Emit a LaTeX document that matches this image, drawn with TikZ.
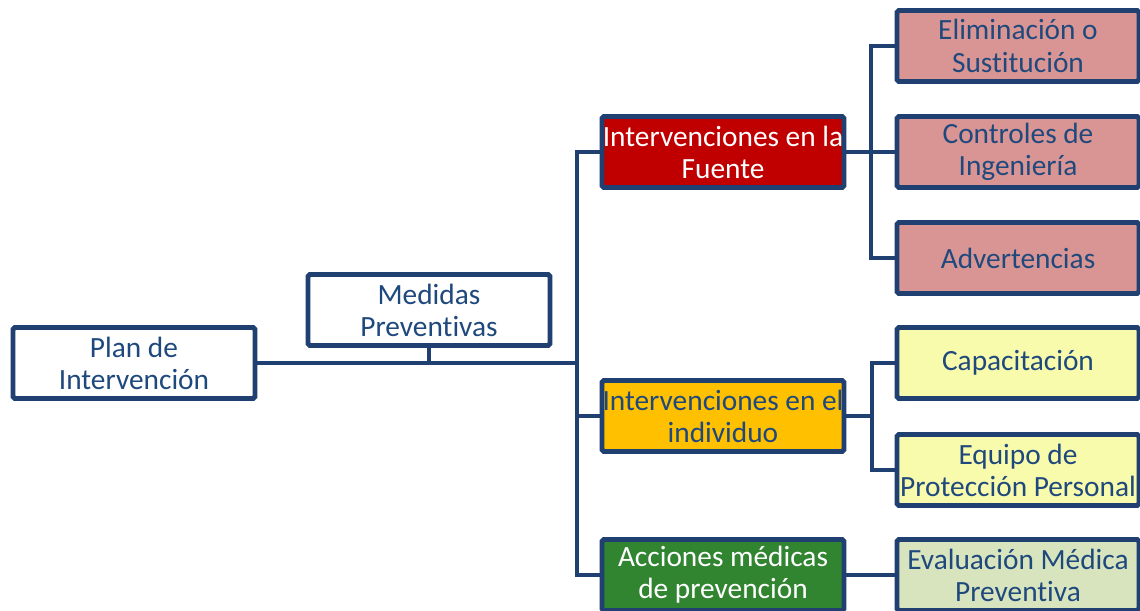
\documentclass[tikz,border=0pt]{standalone}
\usepackage{fontspec}
\setmainfont{Carlito}[Ligatures=NoCommon]
\definecolor{lineblue}{RGB}{31,64,112}
\definecolor{textblue}{RGB}{31,73,125}
\definecolor{fuentered}{RGB}{192,0,0}
\definecolor{indivorange}{RGB}{255,192,0}
\definecolor{medgreen}{RGB}{49,133,49}
\definecolor{lightred}{RGB}{217,149,148}
\definecolor{lightyellow}{RGB}{248,250,172}
\definecolor{lightgreen}{RGB}{215,228,189}
\tikzset{
    box/.style={draw=lineblue, line width=2.8pt, rounded corners=1pt, minimum width=4.84cm, minimum height=1.42cm,
        inner sep=0pt, align=center, text=textblue, font=\fontsize{16.7}{18.3}\selectfont},
    link/.style={lineblue, line width=2.8pt}
}
\begin{document}
\begin{tikzpicture}[x=0.02cm, y=-0.02cm]
    \useasboundingbox (0,0) rectangle (1140,611);
    \clip (0,0) rectangle (1140,611);

    % left part
    \node[box, fill=white] (plan) at (134,363) {Plan de\\Intervención};
    \node[box, fill=white] (medidas) at (429,310) {Medidas\\Preventivas};

    % middle column
    \node[box, fill=fuentered, text=white] (fuente) at (723,152) {Intervenciones en la\\Fuente};
    \node[box, fill=indivorange] (individuo) at (723,416) {Intervenciones en el\\individuo};
    \node[box, fill=medgreen, text=white] (acciones) at (723,575) {Acciones médicas\\de prevención};

    % right column
    \node[box, fill=lightred] (elimina) at (1018,46) {Eliminación o\\Sustitución};
    \node[box, fill=lightred] (controles) at (1018,152) {Controles de\\Ingeniería};
    \node[box, fill=lightred] (advierte) at (1018,258) {Advertencias};
    \node[box, fill=lightyellow] (capacita) at (1018,363) {Capacitación};
    \node[box, fill=lightyellow] (equipo) at (1018,470) {Equipo de\\Protección Personal};
    \node[box, fill=lightgreen] (evalua) at (1018,575) {Evaluación Médica\\Preventiva};

    \coordinate (trunk) at (577,363);
    \coordinate (forkA) at (871,152);
    \coordinate (forkB) at (872,416);

    \draw[link] (plan.east) -- (trunk);
    \draw[link] (medidas.south) -- (medidas.south |- plan.east);
    \draw[link] (fuente.west) -| (trunk) |- (acciones.west);
    \draw[link] (trunk) |- (individuo.west);

    \draw[link] (fuente.east) -- (forkA) -- (controles.west);
    \draw[link] (elimina.west) -| (forkA) |- (advierte.west);

    \draw[link] (individuo.east) -- (forkB);
    \draw[link] (capacita.west) -| (forkB) |- (equipo.west);

    \draw[link] (acciones.east) -- (evalua.west);
\end{tikzpicture}
\end{document}
